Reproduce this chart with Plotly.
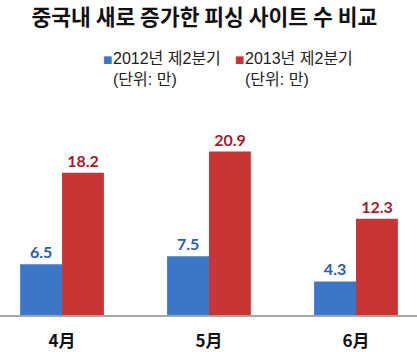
import plotly.graph_objects as go

months = ["4月", "5月", "6月"]
series_names = ["2012년 제2분기", "2013년 제2분기"]
unit_label = "(단위: 만)"
values_2012 = [6.5, 7.5, 4.3]
values_2013 = [18.2, 20.9, 12.3]
bar_colors = ["#3C76C6", "#C93535"]
label_colors = ["#2D5C9F", "#A51A2E"]

fig = go.Figure()
for name, vals, bc, lc in zip(series_names, [values_2012, values_2013], bar_colors, label_colors):
    fig.add_trace(go.Bar(
        x=months, y=vals, name=name,
        marker=dict(color=bc, line=dict(width=0)),
        text=[f"{v:.1f}" for v in vals], textposition="outside",
        textfont=dict(family="Lato, Noto Sans, sans-serif", size=16, color=lc, weight="bold"),
        cliponaxis=False, showlegend=False,
    ))

# legend drawn as annotations (marker square + two-line label)
legend_x_marker = [0.258, 0.574]
legend_x_text = [0.266, 0.583]
for name, bc, xm, xt in zip(series_names, bar_colors, legend_x_marker, legend_x_text):
    fig.add_annotation(xref="paper", yref="paper", x=xm, y=1.19, xanchor="center", yanchor="middle",
                       text="■", showarrow=False, font=dict(family="DejaVu Sans", size=10, color=bc))
    fig.add_annotation(xref="paper", yref="paper", x=xt, y=1.145, xanchor="left", yanchor="middle",
                       text=f"{name}<br>{unit_label}", align="left", showarrow=False,
                       font=dict(family="Liberation Sans, Noto Sans CJK KR", size=16, color="#222222"))

fig.update_layout(
    width=417, height=352,
    margin=dict(l=0, r=0, t=100, b=37),
    paper_bgcolor="white", plot_bgcolor="white",
    barmode="group", bargap=0.43, bargroupgap=0,
    title=dict(text="<b>중국내 새로 증가한 피싱 사이트 수 비교</b>",
               x=0.49, xanchor="center", y=0.95, yanchor="middle",
               font=dict(family="Noto Sans CJK KR", size=21.5, color="#111111")),
    showlegend=False,
    xaxis=dict(range=[-0.422, 2.415], showline=True, linecolor="#A6A6A6", linewidth=1.5,
               showgrid=False, ticks="", ticklabelstandoff=10,
               tickfont=dict(family="Noto Sans CJK KR", size=17, color="#111111", weight="bold")),
    yaxis=dict(range=[0, 27.5], visible=False, showgrid=False, zeroline=False),
)

fig.write_html("out.html")
